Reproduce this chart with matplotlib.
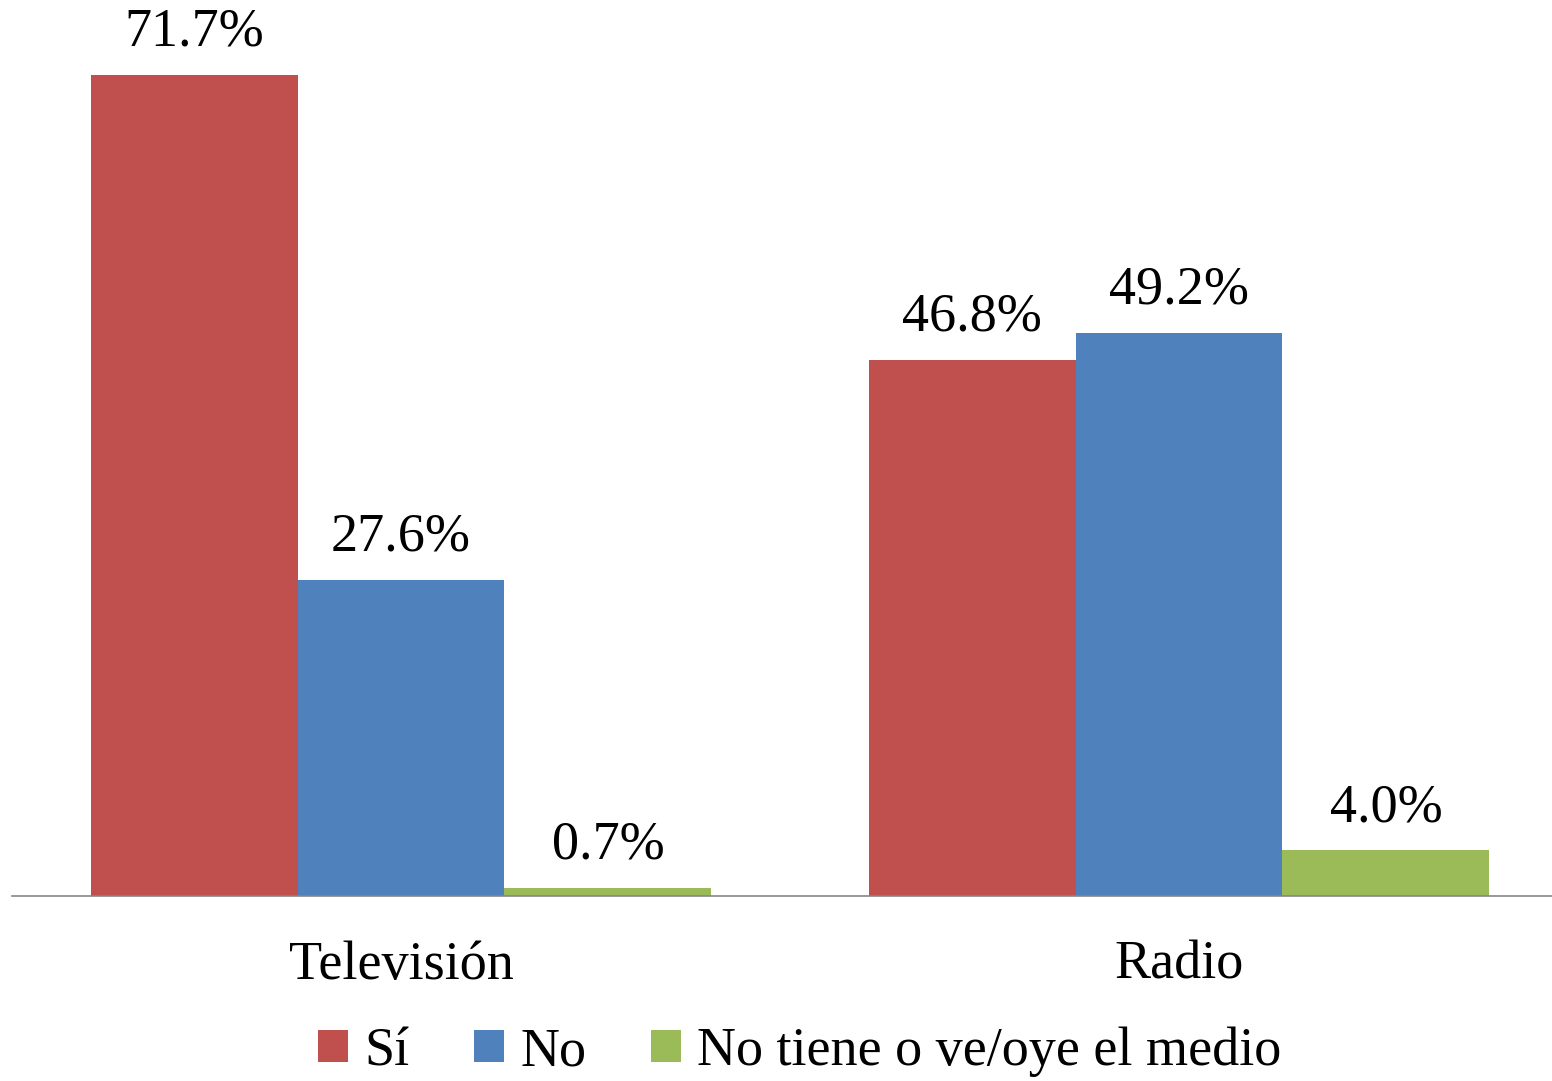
import matplotlib

matplotlib.use("Agg")
import matplotlib.pyplot as plt
import numpy as np

categories = ["Televisión", "Radio"]
series = ["Sí", "No", "No tiene o ve/oye el medio"]
si = [71.7, 46.8]
no = [27.6, 49.2]
no_tiene = [0.7, 4.0]
colors = ["#C0504D", "#4F81BD", "#9BBB59"]

plt.rcParams["font.family"] = ["Liberation Serif", "DejaVu Serif"]

W, H = 1552, 1081
fig = plt.figure(figsize=(W / 100, H / 100), dpi=100)
ax = fig.add_axes([12 / W, (H - 896) / H, 1556 / W, 896 / H])

x = np.arange(len(categories))
bw = 0.266
for i, (vals, lab, c) in enumerate(zip([si, no, no_tiene], series, colors)):
    bars = ax.bar(x + (i - 1) * bw, vals, bw, color=c, label=lab, edgecolor="none")
    for b, v in zip(bars, vals):
        ax.text(b.get_x() + b.get_width() / 2, v + 1.5, f"{v:.1f}%",
                ha="center", va="bottom", fontsize=39)

ax.set_xlim(-0.5, 1.5)
ax.set_ylim(0, 78.25)
ax.set_yticks([])
ax.set_xticks(x)
ax.set_xticklabels(categories, fontsize=39)
ax.tick_params(axis="x", length=0, pad=32)
for s in ("top", "right", "left"):
    ax.spines[s].set_visible(False)
ax.spines["bottom"].set_color("#868686")
ax.spines["bottom"].set_linewidth(1.2)

fig.legend(loc="center", bbox_to_anchor=(800 / W, 1 - 1052 / H), ncol=3,
           frameon=False, fontsize=39, handlelength=0.55, handleheight=0.55,
           handletextpad=0.3, columnspacing=1.2)

fig.savefig("out.png", dpi=100)
